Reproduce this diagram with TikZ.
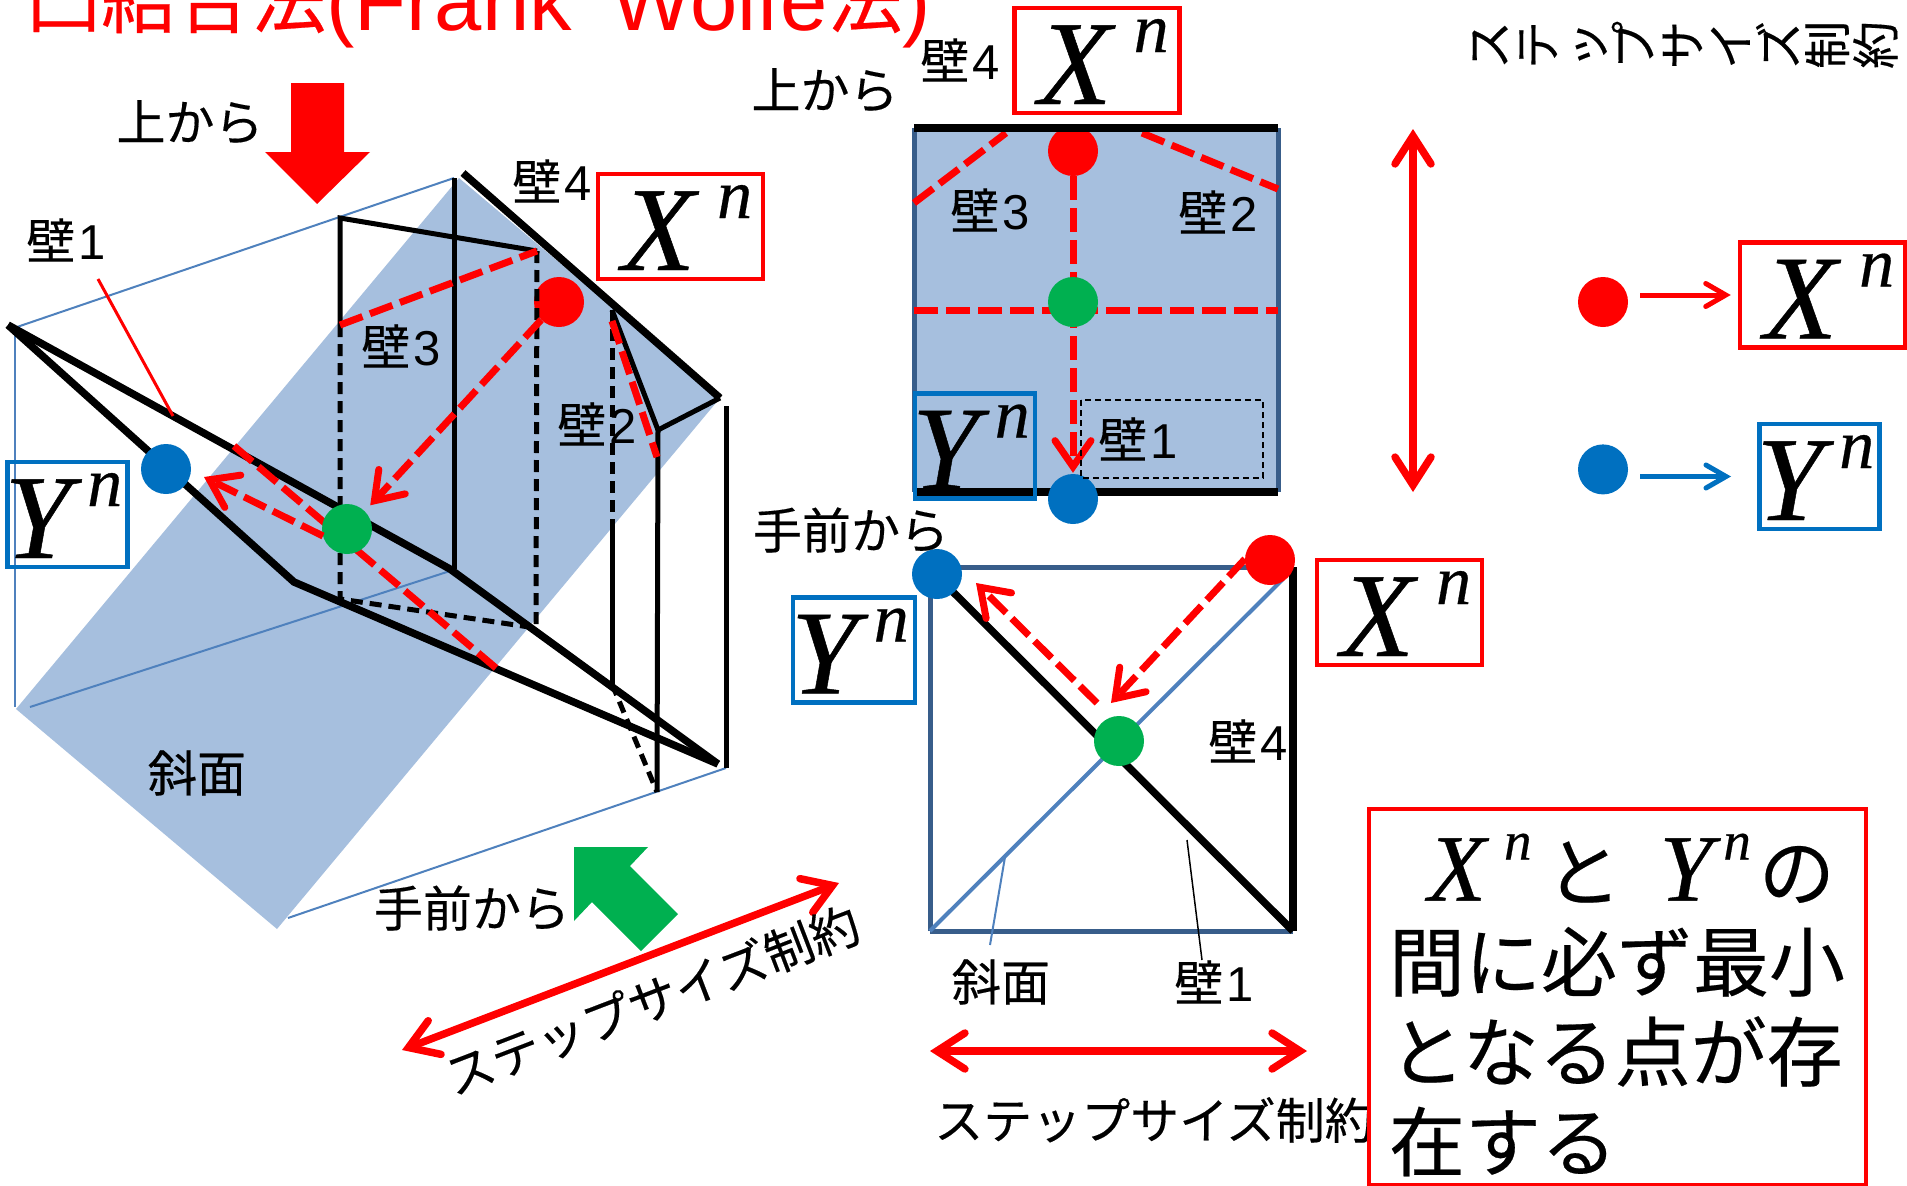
\documentclass[tikz,border=0pt]{standalone}
\usepackage{fontspec}
\usepackage{graphicx}
\setmainfont{Liberation Sans}
\newfontfamily\cjk[FakeBold=0.3]{Noto Sans CJK JP}
\newfontfamily\timesfam[ItalicFeatures={FakeBold=0.4}]{Liberation Serif}
\usetikzlibrary{positioning, arrows.meta}
\definecolor{slopefill}{HTML}{A6BFDE}
\definecolor{slopeline}{HTML}{4F81BD}
\definecolor{frameblue}{HTML}{385D8A}
\definecolor{keyblue}{HTML}{0070C0}
\definecolor{keygreen}{HTML}{00B050}
\newcommand{\Xbig}{{\timesfam\itshape\fontsize{120}{120}\selectfont\kern13pt X\kern22pt\raisebox{52pt}{\fontsize{70}{70}\selectfont n}}}
\newcommand{\Ybig}{\makebox[112pt][l]{\timesfam\itshape\fontsize{120}{120}\selectfont\kern-7pt Y\kern16pt\raisebox{52pt}{\fontsize{70}{70}\selectfont n}}}
\newcommand{\Xsmall}{{\timesfam\itshape\fontsize{95}{95}\selectfont X\kern18pt\raisebox{41pt}{\fontsize{55}{55}\selectfont n}}}
\newcommand{\Ysmall}{{\timesfam\itshape\fontsize{95}{95}\selectfont Y\kern11pt\raisebox{41pt}{\fontsize{55}{55}\selectfont n}}}
\newcommand{\wall}[1]{壁\kern3pt{\rmfamily #1}}
\newcommand{\turned}[1]{\makebox[48.4pt]{\rotatebox[origin=c]{90}{\rule{0pt}{42pt}\rule[-6pt]{0pt}{6pt}#1}}}
\begin{document}
\begin{tikzpicture}[
        x=1pt, y=-1pt,
        tag/.style={inner sep=0pt, font=\cjk\fontsize{49}{49}\selectfont},
        xbox/.style={rectangle, draw=red, line width=4.5pt, minimum width=165pt, minimum height=105pt, inner sep=0pt, text height=87pt, text depth=0pt},
        ybox/.style={rectangle, draw=keyblue, line width=4.5pt, minimum width=120pt, minimum height=105pt, inner sep=0pt, text height=87pt, text depth=0pt},
        dot/.style={circle, minimum size=50pt, inner sep=0pt},
        slope/.style={fill=slopefill},
        guide/.style={slopeline, line width=2pt},
        frame/.style={frameblue, line width=5pt},
        wallthick/.style={black, line width=7.5pt},
        wallthin/.style={black, line width=5pt},
        walldash/.style={black, line width=5pt, dash pattern=on 12pt off 7pt},
        track/.style={red, line width=7pt, dash pattern=on 24pt off 8pt},
        trackarrow/.style={track, -{Straight Barb[length=26pt, width=36pt, line cap=round]}},
        stepsize/.style={red, line width=7.5pt, {Straight Barb[length=28pt, width=36pt, line cap=round]}-{Straight Barb[length=28pt, width=36pt, line cap=round]}},
        keyarrow/.style={line width=5pt, -{Straight Barb[length=20pt, width=23pt, line cap=round]}}
    ]
        \useasboundingbox (0,0) rectangle (1907,1186);

        % Title
        \node[anchor=base west, inner sep=0pt, text=red, font=\fontsize{85}{85}\selectfont] (title) at (26,30) {\raisebox{3pt}{\cjk\fontsize{75}{75}\selectfont 凸結合法}(Frank\kern40pt Wolfe\raisebox{3pt}{\cjk\fontsize{75}{75}\selectfont 法})};

        % Corners of the oblique view
        \coordinate (slopea) at (16,709);
        \coordinate (slopeb) at (459,178);
        \coordinate (slopec) at (720,398);
        \coordinate (sloped) at (277,929);
        \coordinate (wallfar) at (463,173);
        \coordinate (wallend) at (718,764);
        \coordinate (wallleft) at (8,325);
        \coordinate (wallmid) at (450,569);
        \coordinate (wallkink) at (294,582);
        \coordinate (apexa) at (340,218);
        \coordinate (apexb) at (537,251);
        \coordinate (apexc) at (340,325);
        \coordinate (apexd) at (340,599);
        \coordinate (apexe) at (536,628);
        \coordinate (ridgea) at (612,310);
        \coordinate (ridgeb) at (658,430);
        \coordinate (ridgec) at (612,525);
        \coordinate (ridged) at (612,684);
        \coordinate (ridgee) at (657,792);
        \coordinate (farpost) at (454,178);
        \coordinate (nearpost) at (726,406);

        % Oblique view
        \fill[slope] (slopea) -- (slopeb) -- (slopec) -- (sloped) -- cycle;
        \draw[guide] (17,327) -- (farpost);
        \draw[guide] (15,327) -- (15,707);
        \draw[guide] (30,707) -- (450,571);
        \draw[guide] (288,918) -- (726,768);

        \node[dot, fill=red] (dotxside) at (559,302) {};

        \draw[wallthin] (apexc) -- (apexa) -- (apexb);
        \draw[wallthin] (farpost) -- (454,569);
        \draw[walldash] (apexc) -- (apexd) -- (apexe);
        \draw[walldash] (apexb) -- (apexe);
        \draw[walldash] (ridgea) -- (ridgec);
        \draw[wallthin] (ridgec) -- (ridged);
        \draw[walldash] (ridged) -- (ridgee);
        \draw[wallthin] (ridgea) -- (ridgeb) -- (slopec);
        \draw[wallthin] (ridgeb) -- (ridgee);
        \draw[wallthin] (nearpost) -- (726,768);
        \draw[wallthick] (wallfar) -- (slopec);
        \draw[wallthick] (wallleft) -- (wallmid) -- (wallend);
        \draw[wallthick] (wallleft) -- (wallkink) -- (wallend);
        \draw[red, line width=3pt] (98,279) -- (173,416);

        \node[dot, fill=keyblue] (dotyside) at (166,469) {};

        \draw[track] (apexc) -- (apexb);
        \draw[track] (612,321) -- (657,457);
        \draw[track] (234,446) -- (496,668);
        \node[dot, fill=keygreen] (dotgside) at (347,529) {};
        \draw[trackarrow, shorten >=8pt] (dotxside.south west) -- (dotgside.north east);
        \draw[trackarrow] (323,536) -- (204,477);

        \node[xbox] (xside) at (680.5,226.5) {\Xbig};
        \node[ybox] (yside) at (67.5,514.5) {\Ybig};
        \node[tag] (wall1side) at (66,240) {\wall{1}};
        \node[tag] (wall4side) at (552,181) {\wall{4}};
        \node[tag] (wall3side) at (401,346) {\wall{3}};
        \node[tag] (wall2side) at (597,424) {\wall{2}};
        \node[tag] (slopeside) at (197,773) {斜面};

        % View arrows
        \node[tag] (fromtop) at (190,122) {上から};
        \fill[red] (291,83) -- (344,83) -- (344,152) -- (370,152) -- (317,204) -- (265,152) -- (291,152) -- cycle;
        \node[tag] (fromfront) at (472,908) {手前から};
        \fill[keygreen] (574,847) -- (648,847) -- (630,866) -- (678,914) -- (641,951) -- (592,902) -- (574,921) -- cycle;

        % Step size, oblique
        \coordinate (stepa) at (402,1050);
        \coordinate (stepb) at (839,883);
        \draw[stepsize] (stepa) -- (stepb);
        \node[tag, rotate=21] (stepside) at (652,1000) {ステップサイズ制約};

        % Top view
        \fill[slope] (914,128) rectangle (1278,492);
        \draw[frame] (914,128) -- (914,492);
        \draw[frame] (1278,128) -- (1278,492);
        \node[dot, fill=red] (dotxtop) at (1073,151) {};
        \draw[track] (914,203) -- (1006,133);
        \draw[track] (1142,133) -- (1278,189);
        \draw[track] (914,310) -- (1278,310);
        \draw[wallthick] (914,128) -- (1278,128);
        \draw[wallthick] (914,492) -- (1278,492);
        \node[dot, fill=keyblue] (dotytop) at (1073,499) {};
        \draw[trackarrow, shorten >=1pt] (dotxtop) -- (dotytop.north);
        \node[dot, fill=keygreen] (dotgtop) at (1073,302) {};
        \draw[black, line width=1.5pt, dash pattern=on 6pt off 4pt] (1081,400) rectangle (1263,478);
        \node[xbox] (xtop) at (1097,60.5) {\Xbig};
        \node[ybox] (ytop) at (975,446) {\Ybig};
        \node[tag] (wall4top) at (960,60) {\wall{4}};
        \node[tag] (wall3top) at (990,210) {\wall{3}};
        \node[tag] (wall2top) at (1218,212) {\wall{2}};
        \node[tag] (wall1top) at (1138,439) {\wall{1}};
        \node[tag] (fromtopb) at (825,90) {上から};

        % Step size, top
        \coordinate (stepc) at (1413,129);
        \coordinate (stepd) at (1413,492);
        \draw[stepsize] (stepc) -- (stepd);
        \node[tag, font=\cjk\fontsize{48}{48}\selectfont] (stepturned) at (1682,45) {\turned{ス}\turned{テ}\turned{ッ}\turned{プ}\turned{サ}\turned{イ}\turned{ズ}\turned{制}\turned{約}};

        % Front view
        \coordinate (frontnw) at (930,567);
        \coordinate (frontne) at (1293,567);
        \coordinate (frontsw) at (930,931);
        \coordinate (frontse) at (1293,931);
        \draw[frame] (frontsw) -- (frontnw) -- (frontne);
        \draw[frame] (frontsw) -- (frontse);
        \draw[wallthick] (frontne) -- (frontse);
        \draw[wallthick] (938,577) -- (frontse);
        \draw[slopeline, line width=4pt] (frontsw) -- (1283,579);
        \draw[slopeline, line width=2pt] (1005,857) -- (990,945);
        \draw[black, line width=1.5pt] (1187,840) -- (1202,960);
        \node[dot, fill=keyblue] (dotyfront) at (937,574) {};
        \node[dot, fill=red] (dotxfront) at (1270,560) {};
        \node[dot, fill=keygreen] (dotgfront) at (1119,741) {};
        \coordinate (trackstart) at (1245,559);
        \coordinate (trackturn) at (1111,703);
        \draw[trackarrow] (trackstart) -- (trackturn);
        \draw[trackarrow] (1097,703) -- (976,583);
        \node[xbox] (xfront) at (1399.5,612.5) {\Xbig};
        \node[ybox, minimum width=122pt] (yfront) at (854,650) {\Ybig};
        \node[tag] (wall4front) at (1248,741) {\wall{4}};
        \node[tag] (wall1front) at (1214,982) {\wall{1}};
        \node[tag, left=124pt of wall1front] (slopefront) {斜面};
        \node[tag] (fromfrontb) at (851,530) {手前から};

        % Step size, front
        \coordinate (stepe) at (930,1051);
        \coordinate (stepf) at (1307,1051);
        \draw[stepsize] (stepe) -- (stepf);
        \node[tag] (stepfront) at (1154,1120) {ステップサイズ制約};

        % Key
        \node[dot, fill=red] (dotxkey) at (1603,302) {};
        \node[dot, fill=keyblue, below=117pt of dotxkey] (dotykey) {};
        \node[xbox] (xkey) at (1822.5,295) {\Xbig};
        \node[ybox] (ykey) at (1819.5,476.5) {\Ybig};
        \draw[keyarrow, red, shorten <=12pt, shorten >=7pt] (dotxkey.east |- xkey.west) -- (xkey.west);
        \draw[keyarrow, keyblue, shorten <=12pt] (dotykey.east |- ykey.west) -- (1731,476.5);

        % Note
        \node[rectangle, draw=red, line width=4.5pt, minimum width=497pt, minimum height=376pt] (note) at (1617.5,997) {};
        \node[inner sep=0pt, text width=470pt, align=left, font=\cjk\fontsize{76}{90}\selectfont] (notetext) at (1624,1005) {\hspace*{39pt}\Xsmall\kern14pt と\kern38pt\Ysmall\kern8pt の\\間に必ず最小\\となる点が存\\在する};
    \end{tikzpicture}
\end{document}
